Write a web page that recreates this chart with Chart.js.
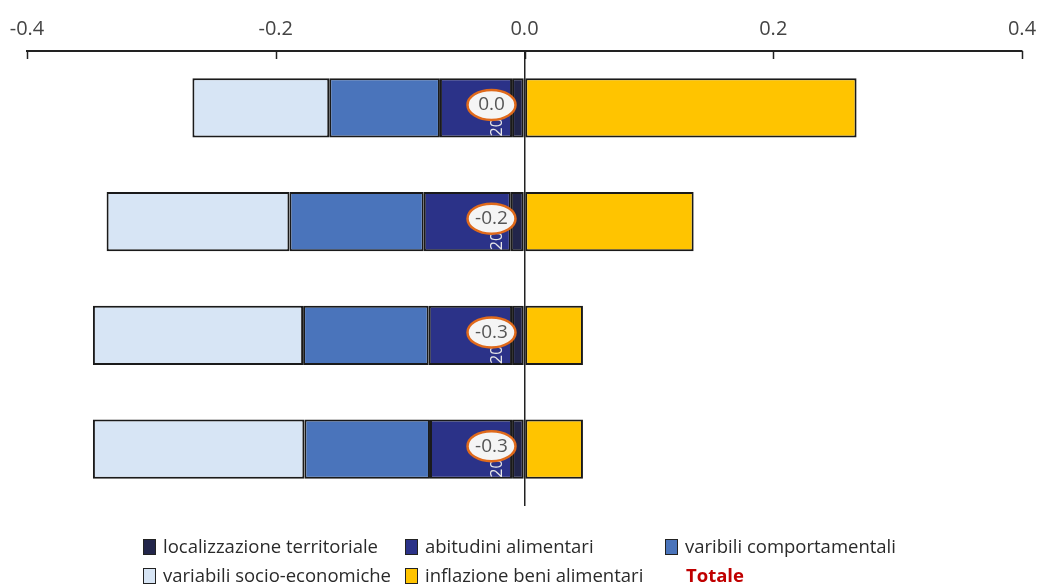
<!DOCTYPE html>
<html lang="it">
<head>
  <meta charset="UTF-8" />
  <title>Scomposizione</title>
  <script src="https://cdn.jsdelivr.net/npm/chart.js"></script>
  <style>
    body { margin: 0; background: #fff; font-family: "Open Sans", sans-serif; }
    .wrap { position: relative; width: 1038px; height: 585px; }
    .legend { position: absolute; left: 0; top: 0; width: 1038px; height: 585px; pointer-events: none; }
    .item { position: absolute; font-size: 18.5px; color: #2a2a2a; white-space: nowrap; line-height: 20px; }
    .item i { display: inline-block; width: 11px; height: 14px; border: 1.5px solid #222; vertical-align: -2px; margin-right: 7px; }
  </style>
</head>
<body>
  <div class="wrap">
    <canvas id="chart" width="1038" height="585"></canvas>
    <div class="legend" id="legend"></div>
  </div>

  <script>
    const categories = ["2019", "2020", "2021", "2022"];
    const localizzazione = [-0.010, -0.011, -0.010, -0.010];
    const abitudini = [-0.058, -0.070, -0.067, -0.066];
    const comportamentali = [-0.089, -0.108, -0.101, -0.101];
    const socioEconomiche = [-0.110, -0.147, -0.169, -0.170];
    const inflazione = [0.267, 0.136, 0.047, 0.047];
    const totale = [0.0, -0.2, -0.3, -0.3];
    const xTicks = [-0.4, -0.2, 0.0, 0.2, 0.4];

    const series = [
      { label: "localizzazione territoriale", data: localizzazione, color: "#22254a" },
      { label: "abitudini alimentari", data: abitudini, color: "#2b3288" },
      { label: "varibili comportamentali", data: comportamentali, color: "#4a74bb" },
      { label: "variabili socio-economiche", data: socioEconomiche, color: "#d7e5f5" },
      { label: "inflazione beni alimentari", data: inflazione, color: "#ffc400" }
    ];

    // short tick marks pointing down into the plot, year labels and Totale bubbles
    const extras = {
      id: "extras",
      afterDatasetsDraw(chart) {
        const c = chart.ctx, x = chart.scales.x, y = chart.scales.y, a = chart.chartArea;
        c.save();
        c.strokeStyle = "#222";
        c.lineWidth = 1.5;
        xTicks.forEach(v => {
          const px = Math.round(x.getPixelForValue(v)) + 0.5;
          c.beginPath();
          c.moveTo(px, a.top);
          c.lineTo(px, a.top + 8);
          c.stroke();
        });
        const meta = chart.getDatasetMeta(0);
        categories.forEach((cat, i) => {
          const py = y.getPixelForValue(i);
          const half = meta.data[i].height / 2;
          const cx = x.getPixelForValue(0) - 33;
          // rotated category label, mostly hidden behind the bubble
          c.save();
          c.beginPath();
          c.rect(cx - 20, py - half, 40, half * 2);
          c.clip();
          c.translate(cx + 6, py + half - 1);
          c.rotate(-Math.PI / 2);
          c.fillStyle = "#e8e8e8";
          c.font = "16px 'Open Sans'";
          c.textBaseline = "middle";
          c.textAlign = "left";
          c.fillText(cat, 0, 0);
          c.restore();
          // Totale bubble
          c.beginPath();
          c.ellipse(cx, py - 3, 24, 15, 0, 0, Math.PI * 2);
          c.fillStyle = "#f5f5f5";
          c.fill();
          c.strokeStyle = "#e06a1b";
          c.lineWidth = 2.5;
          c.stroke();
          c.fillStyle = "#555";
          c.font = "19px 'Open Sans'";
          c.textAlign = "center";
          c.textBaseline = "middle";
          c.fillText(totale[i].toFixed(1), cx, py - 3);
        });
        c.restore();
      }
    };

    new Chart(document.getElementById("chart"), {
      type: "bar",
      data: {
        labels: categories,
        datasets: series.map(s => ({
          label: s.label,
          data: s.data,
          backgroundColor: s.color,
          borderColor: "#1a1a1a",
          borderWidth: 2,
          borderSkipped: false
        }))
      },
      options: {
        indexAxis: "y",
        responsive: false,
        animation: false,
        layout: { padding: { left: 27, right: 16, top: 7, bottom: 79 } },
        plugins: { legend: { display: false }, tooltip: { enabled: false } },
        datasets: { bar: { categoryPercentage: 1, barPercentage: 0.52 } },
        scales: {
          x: {
            position: "top",
            stacked: true,
            min: -0.4,
            max: 0.4,
            afterBuildTicks: axis => { axis.ticks = xTicks.map(v => ({ value: v })); },
            // let the end labels hang over the plot edges
            afterFit: axis => { axis.paddingLeft = 0; axis.paddingRight = 0; },
            ticks: {
              padding: 10,
              color: "#444",
              font: { family: "Open Sans", size: 20 },
              callback: v => Number(v).toFixed(1)
            },
            grid: {
              drawTicks: false,
              lineWidth: 1.5,
              color: ctx => (ctx.tick && ctx.tick.value === 0 ? "#222" : "rgba(0,0,0,0)")
            },
            border: { display: true, color: "#222", width: 2 }
          },
          y: { display: false, stacked: true }
        }
      },
      plugins: [extras]
    });

    const legendItems = [
      { text: series[0].label, color: series[0].color, left: 143, top: 536 },
      { text: series[1].label, color: series[1].color, left: 405, top: 536 },
      { text: series[2].label, color: series[2].color, left: 665, top: 536 },
      { text: series[3].label, color: series[3].color, left: 143, top: 565 },
      { text: series[4].label, color: series[4].color, left: 405, top: 565 },
      { text: "Totale", color: null, left: 686, top: 565 }
    ];
    const legend = document.getElementById("legend");
    legendItems.forEach(it => {
      const d = document.createElement("div");
      d.className = "item";
      d.style.left = it.left + "px";
      d.style.top = it.top + "px";
      if (it.color) {
        d.innerHTML = '<i style="background:' + it.color + '"></i>' + it.text;
      } else {
        d.textContent = it.text;
        d.style.color = "#c00000";
        d.style.fontWeight = "bold";
      }
      legend.appendChild(d);
    });
  </script>
</body>
</html>
